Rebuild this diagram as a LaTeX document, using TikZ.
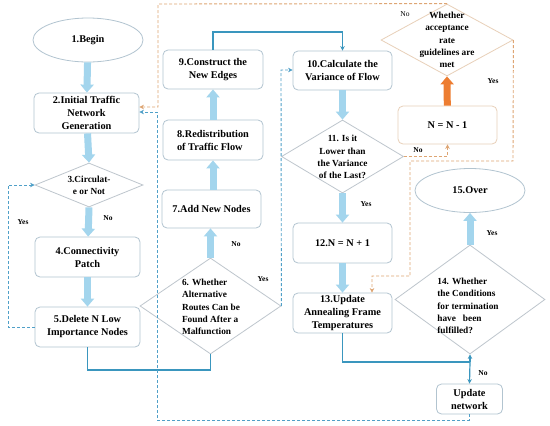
\documentclass[tikz,border=0pt]{standalone}
\usepackage{fontspec}
\setmainfont{Liberation Serif}
\usetikzlibrary{shapes.geometric,arrows.meta,calc}
\definecolor{tb}{RGB}{163,213,237}
\definecolor{teal}{RGB}{58,150,190}
\definecolor{dblue}{RGB}{80,160,200}
\definecolor{dor}{RGB}{222,165,115}
\definecolor{orth}{RGB}{237,125,49}
\definecolor{boxc}{RGB}{178,196,208}
\definecolor{diac}{RGB}{190,198,205}
\definecolor{orbox}{RGB}{232,208,185}
\begin{document}
\begin{tikzpicture}[x=1pt,y=-1pt,
  box/.style={draw=boxc, line width=0.8pt, rounded corners=5pt, align=center, inner sep=1pt, font=\bfseries\fontsize{10.3}{13}\selectfont},
  dia/.style={draw=diac, line width=0.8pt, shape=diamond, inner sep=0pt},
  dtxt/.style={align=center, inner sep=0pt, font=\bfseries\fontsize{9.3}{12.2}\selectfont},
  ell/.style={draw=boxc, line width=0.8pt, shape=ellipse, inner sep=0pt, font=\bfseries\fontsize{10.3}{13}\selectfont},
  bigarrow/.style={draw=tb, line width=7pt, -{Triangle[width=13pt,length=8pt]}},
  tline/.style={draw=teal, line width=1.2pt},
  tarr/.style={tline, -{Stealth[length=4.5pt,width=4.5pt]}},
  bdash/.style={draw=dblue, line width=0.9pt, dash pattern=on 3pt off 2pt, -{Stealth[length=4.5pt,width=4.5pt]}},
  odash/.style={draw=dor, line width=0.9pt, dash pattern=on 3pt off 2pt, -{Stealth[length=4.5pt,width=4.5pt]}},
  lab/.style={font=\bfseries\fontsize{7.5}{9}\selectfont, inner sep=0pt}
]
\useasboundingbox (0,0) rectangle (550,426);
\fill[white] (0,0) rectangle (550,426);

% nodes
\node[ell, minimum width=110, minimum height=44] (e1) at (88,40) {1.Begin};
\node[box, minimum width=105, minimum height=40] (n2) at (86.5,113) {2.Initial Traffic\\Network\\Generation};
\node[dia, minimum width=108, minimum height=44] (d3) at (89,185) {};
\node[dtxt] (d3t) at (89,185) {3.Circulat-\\e or Not};
\node[box, minimum width=105, minimum height=40] (n4) at (87.5,257) {4.Connectivity\\Patch};
\node[box, minimum width=105, minimum height=40] (n5) at (87.5,327) {5.Delete N Low\\Importance Nodes};
\node[dia, minimum width=141, minimum height=96] (d6) at (210.5,306) {};
\node[dtxt, align=left] (d6t) at (211,307) {6. Whether\\Alternative\\Routes Can be\\Found After a\\Malfunction};
\node[box, minimum width=99, minimum height=38] (n7) at (211.5,209) {7.Add New Nodes};
\node[box, minimum width=100, minimum height=40, align=left] (n8) at (213,140) {8.Redistribution\\of Traffic Flow};
\node[box, minimum width=100, minimum height=39] (n9) at (213,69.5) {9.Construct the\\New Edges};
\node[box, minimum width=99, minimum height=39] (n10) at (342.5,70.5) {10.Calculate the\\Variance of Flow};
\node[dia, minimum width=122, minimum height=73] (d11) at (342.5,156.5) {};
\node[dtxt] (d11t) at (342.5,157) {11. Is it\\Lower than\\the Variance\\of the Last?};
\node[box, minimum width=99, minimum height=40] (n12) at (342.5,243) {12.N = N + 1};
\node[box, minimum width=99, minimum height=40] (n13) at (342.5,313) {13.Update\\Annealing Frame\\Temperatures};
\node[dia, minimum width=150, minimum height=109] (d14) at (470,299.5) {};
\node[dtxt, align=left] (d14t) at (468,306) {14. Whether\\the Conditions\\for termination\\have~~~been\\fulfilled?};
\node[ell, minimum width=110, minimum height=44] (e15) at (470,190.5) {15.Over};
\node[box, draw=orbox, minimum width=99, minimum height=38] (nN) at (447.5,125) {N = N - 1};
\node[dia, draw=orbox, minimum width=132, minimum height=72] (dA) at (447,40) {};
\node[dtxt] (dAt) at (447,40) {Whether\\acceptance\\rate\\guidelines are\\met};
\node[box, minimum width=66, minimum height=30] (upd) at (469.5,399) {Update\\network};

% coordinates
\coordinate (c5l) at (8,327);
\coordinate (c3l) at (8,185);
\coordinate (c5b) at (87.5,370);
\coordinate (c6b) at (210.5,370);
\coordinate (c9t) at (213,32);
\coordinate (c10t) at (342.5,32);
\coordinate (c6r) at (281,70);
\coordinate (c11r) at (447.5,156.5);
\coordinate (cAt) at (158,4);
\coordinate (cAt2) at (158,107);
\coordinate (cAr) at (513,161);
\coordinate (cAr2) at (410,161);
\coordinate (cAr3) at (410,276);
\coordinate (cAr4) at (372,276);
\coordinate (jn) at (470,362);
\coordinate (cu1) at (469.5,420);
\coordinate (cu2) at (157,420);
\coordinate (cu3) at (157,112);

% thick arrows
\draw[bigarrow] (e1) -- (n2);
\draw[bigarrow] (n2) -- (d3.north);
\draw[bigarrow] (d3.south) -- (n4);
\draw[bigarrow] (n4) -- (n5);
\draw[bigarrow] (d6.north) -- (n7.south -| d6.north);
\draw[bigarrow] (n7.north -| n8.south) -- (n8.south);
\draw[bigarrow] (n8) -- (n9);
\draw[bigarrow] (n10) -- (d11.north);
\draw[bigarrow] (d11.south) -- (n12);
\draw[bigarrow] (n12) -- (n13);
\draw[bigarrow] (d14.north) -- (e15.south);
\draw[draw=orth, line width=7pt, -{Triangle[width=13pt,length=8pt]}] (nN) -- (dA.south);

% thin lines
\draw[bdash] (n5.west) -- (c5l) -- (c3l) -- (d3.west);
\draw[tline] (n5.south) -- (c5b) -- (c6b) -- (d6.south);
\draw[tarr] (n9.north) -- (c9t) -- (c10t) -- (n10.north);
\draw[bdash] (d6.east) -- (c6r) -- (n10.west |- c6r);
\draw[odash] (d11.east) -- (c11r) -- (nN.south);
\draw[odash] (dA.north) -- (cAt) -- (cAt2) -- (n2.east |- cAt2);
\draw[odash] (dA.east) -- (cAr) -- (cAr2) -- (cAr3) -- (cAr4) -- (n13.north -| cAr4);
\draw[tline] (n13.south) |- (jn);
\draw[tarr] (jn) -- (d14.south);
\draw[tarr] (jn) -- (upd.north);
\draw[bdash] (upd.south) -- (cu1) -- (cu2) -- (cu3) -- (n2.east |- cu3);

% labels
\node[lab] (l3no) at (108,218) {No};
\node[lab] (l3yes) at (23,222) {Yes};
\node[lab] (l6no) at (236,244) {No};
\node[lab] (l6yes) at (263,279) {Yes};
\node[lab] (l11yes) at (366,204) {Yes};
\node[lab] (l11no) at (418,150) {No};
\node[lab, font=\fontsize{7.5}{9}\selectfont] (lAno) at (405,14) {No};
\node[lab] (lAyes) at (493,81) {Yes};
\node[lab] (l14yes) at (492,233) {Yes};
\node[lab] (l14no) at (483,373) {No};
\end{tikzpicture}
\end{document}
